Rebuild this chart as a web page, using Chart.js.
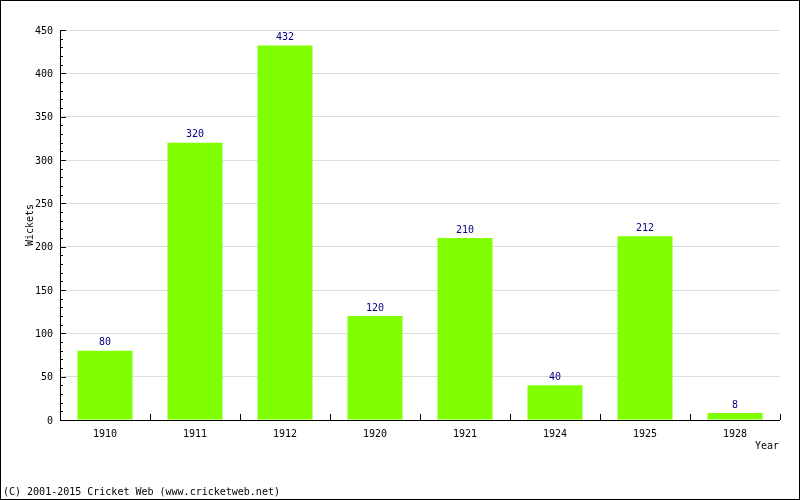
<!DOCTYPE html>
<html>
<head>
<meta charset="utf-8">
<script src="https://cdn.jsdelivr.net/npm/chart.js@4/dist/chart.umd.min.js"></script>
<style>
html,body{margin:0;padding:0;background:#fff;}
canvas{display:block;}
</style>
</head>
<body>
<canvas id="c" width="800" height="500"></canvas>
<script>
const categories = ['1910','1911','1912','1920','1921','1924','1925','1928'];
const wickets = [80,320,432,120,210,40,212,8];
const yMax = 450;
const yStep = 50;
const yTitle = 'Wickets';
const xTitle = 'Year';
const footer = '(C) 2001-2015 Cricket Web (www.cricketweb.net)';

const FONT = '"DejaVu Sans Mono", "Liberation Mono", monospace';

const decor = {
  id: 'decor',
  beforeDraw(chart) {
    const ctx = chart.ctx;
    ctx.save();
    ctx.fillStyle = '#fff';
    ctx.fillRect(0, 0, chart.width, chart.height);
    ctx.restore();
  },
  afterDatasetsDraw(chart) {
    const ctx = chart.ctx;
    const meta = chart.getDatasetMeta(0);
    ctx.save();
    ctx.font = '10px ' + FONT;
    ctx.fillStyle = '#000080';
    ctx.textAlign = 'center';
    ctx.textBaseline = 'middle';
    meta.data.forEach((el, i) => {
      ctx.fillText(String(wickets[i]), el.x, el.y - 8);
    });
    ctx.restore();
  },
  afterDraw(chart) {
    const ctx = chart.ctx;
    const xs = chart.scales.x, ys = chart.scales.y;
    const ca = chart.chartArea;
    ctx.save();
    ctx.strokeStyle = '#000';
    ctx.lineWidth = 1;
    ctx.beginPath();
    ctx.moveTo(ca.left + 0.5, ys.getPixelForValue(yMax));
    ctx.lineTo(ca.left + 0.5, ca.bottom + 0.5);
    ctx.lineTo(ca.right, ca.bottom + 0.5);
    for (let v = 0; v <= yMax; v += 10) {
      const py = Math.round(ys.getPixelForValue(v)) + 0.5;
      ctx.moveTo(ca.left, py);
      ctx.lineTo(ca.left + (v % yStep === 0 ? 6 : 3), py);
    }
    const n = categories.length;
    for (let i = 1; i <= n; i++) {
      let px;
      if (i === n) px = xs.right;
      else px = (xs.getPixelForValue(i - 1) + xs.getPixelForValue(i)) / 2;
      px = Math.round(px) + 0.5;
      ctx.moveTo(px, ca.bottom);
      ctx.lineTo(px, ca.bottom - 6);
    }
    ctx.stroke();
    ctx.strokeRect(0.5, 0.5, chart.width - 1, chart.height - 1);
    ctx.fillStyle = '#000';
    ctx.font = '10px ' + FONT;
    ctx.textBaseline = 'middle';
    ctx.textAlign = 'right';
    ctx.fillText(xTitle, 779, 446);
    ctx.textAlign = 'left';
    ctx.fillText(footer, 3, 492);
    ctx.save();
    ctx.translate(30, (ca.top + ca.bottom) / 2);
    ctx.rotate(-Math.PI / 2);
    ctx.textAlign = 'center';
    ctx.fillText(yTitle, 0, 0);
    ctx.restore();
    ctx.restore();
  }
};

new Chart(document.getElementById('c'), {
  type: 'bar',
  data: {
    labels: categories,
    datasets: [{
      data: wickets,
      backgroundColor: '#7fff00',
      borderWidth: 0,
      categoryPercentage: 1,
      barPercentage: 55 / 90
    }]
  },
  options: {
    responsive: false,
    animation: false,
    devicePixelRatio: 1,
    layout: { padding: { top: 30, right: 20, left: 0, bottom: 0 } },
    plugins: { legend: { display: false }, tooltip: { enabled: false } },
    scales: {
      x: {
        grid: { display: false, drawTicks: false },
        border: { display: false },
        ticks: { color: '#000', font: { family: FONT, size: 10 }, padding: 8, maxRotation: 0 },
        afterFit(s) { s.height = 80; }
      },
      y: {
        min: 0,
        max: yMax,
        grid: { color: '#dddddd', drawTicks: false, lineWidth: 1 },
        border: { display: false },
        ticks: { stepSize: yStep, color: '#000', font: { family: FONT, size: 10 }, padding: 7, labelOffset: 1 },
        afterFit(s) { s.width = 60; }
      }
    }
  },
  plugins: [decor]
});
</script>
</body>
</html>
